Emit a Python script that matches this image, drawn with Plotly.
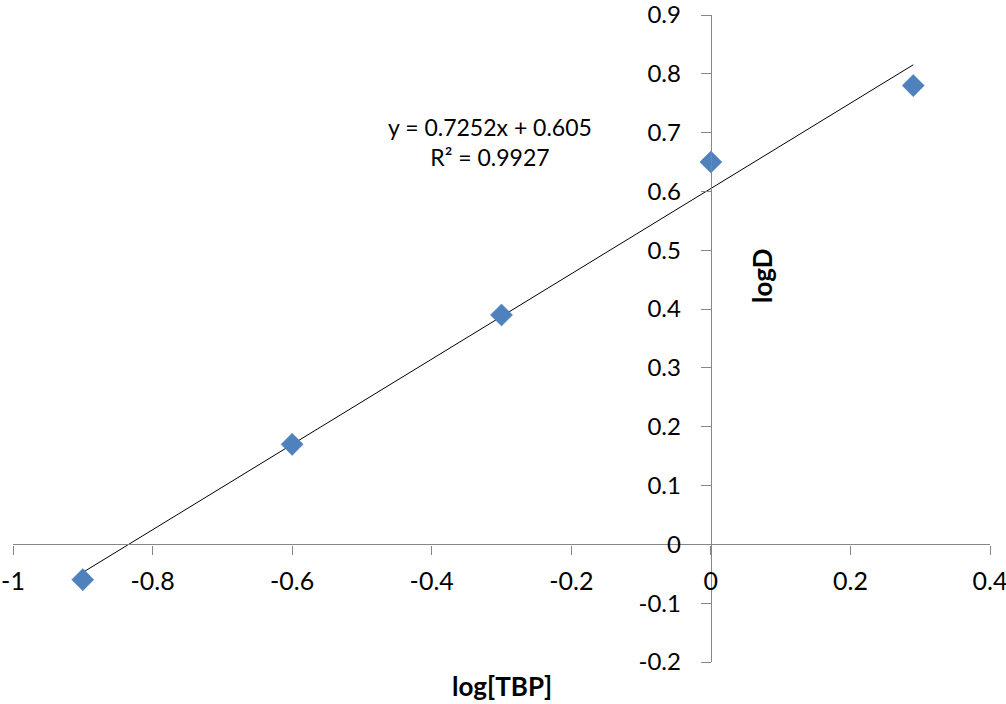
import plotly.graph_objects as go
import numpy as np

# Data
log_tbp = [-0.9, -0.6, -0.3, 0.0, 0.29]
log_d = [-0.06, 0.17, 0.39, 0.65, 0.78]

# Trendline shown on chart
slope = 0.7252
intercept = 0.605
r_squared = 0.9927

x_ticks = [-1, -0.8, -0.6, -0.4, -0.2, 0, 0.2, 0.4]
x_tick_labels = ["-1", "-0.8", "-0.6", "-0.4", "-0.2", "0", "0.2", "0.4"]
y_ticks = [-0.2, -0.1, 0, 0.1, 0.2, 0.3, 0.4, 0.5, 0.6, 0.7, 0.8, 0.9]
y_tick_labels = ["-0.2", "-0.1", "0", "0.1", "0.2", "0.3", "0.4", "0.5", "0.6", "0.7", "0.8", "0.9"]

FONT = "Lato, Calibri, Carlito, sans-serif"
x_range = [-1, 0.4]
y_range = [-0.2, 0.9]

trend_x = np.array([min(log_tbp), max(log_tbp)])
trend_y = slope * trend_x + intercept

fig = go.Figure()
fig.add_trace(go.Scatter(
    x=trend_x, y=trend_y, mode="lines",
    line=dict(color="black", width=1), showlegend=False, hoverinfo="skip"))
fig.add_trace(go.Scatter(
    x=log_tbp, y=log_d, mode="markers",
    marker=dict(symbol="diamond", size=17, color="#4F81BD",
                line=dict(color="#4A7EBB", width=0.5)),
    showlegend=False))

# axes crossing at zero
ypos = (0 - x_range[0]) / (x_range[1] - x_range[0])
xpos = (0 - y_range[0]) / (y_range[1] - y_range[0])

TOP, BOTTOM = 15, 662
fig.update_layout(
    width=1006, height=704,
    margin=dict(l=13, r=16, t=TOP, b=704 - BOTTOM, autoexpand=False),
    plot_bgcolor="white", paper_bgcolor="white",
    font=dict(family=FONT, size=24, color="black"),
    xaxis=dict(range=x_range, tickvals=x_ticks, ticktext=x_tick_labels,
               showgrid=False, zeroline=False, showline=True,
               linecolor="#868686", linewidth=1.3, automargin=False,
               ticks="outside", ticklen=9, tickcolor="#868686", tickwidth=1.3,
               anchor="free", position=xpos, ticklabelstandoff=5,
               ticklabeloverflow="allow",
               tickfont=dict(family=FONT, size=25, color="black")),
    yaxis=dict(range=y_range, tickvals=y_ticks, ticktext=y_tick_labels,
               showgrid=False, zeroline=False, showline=True,
               linecolor="#868686", linewidth=1.3, automargin=False,
               ticks="outside", ticklen=10, tickcolor="#868686", tickwidth=1.3,
               anchor="free", position=ypos, ticklabelstandoff=15,
               ticklabeloverflow="allow",
               tickfont=dict(family=FONT, size=24, color="black")),
)

H = BOTTOM - TOP
fig.add_annotation(
    x=(490 - 13) / 977, y=(BOTTOM - 142) / H, xref="paper", yref="paper",
    xanchor="center", yanchor="middle",
    text=f"y = {slope}x + {intercept}<br>R² = {r_squared}",
    showarrow=False, align="center",
    font=dict(family=FONT, size=23, color="black"))

fig.add_annotation(
    x=(502 - 13) / 977, y=(BOTTOM - 686) / H, xref="paper", yref="paper",
    xanchor="center", yanchor="middle",
    text="<b>log[TBP]</b>", showarrow=False,
    font=dict(family=FONT, size=26, color="black"))

fig.add_annotation(
    x=(762 - 13) / 977, y=(BOTTOM - 276) / H, xref="paper", yref="paper",
    xanchor="center", yanchor="middle",
    text="<b>logD</b>", textangle=-90, showarrow=False,
    font=dict(family=FONT, size=26, color="black"))

fig.write_html("out.html")
